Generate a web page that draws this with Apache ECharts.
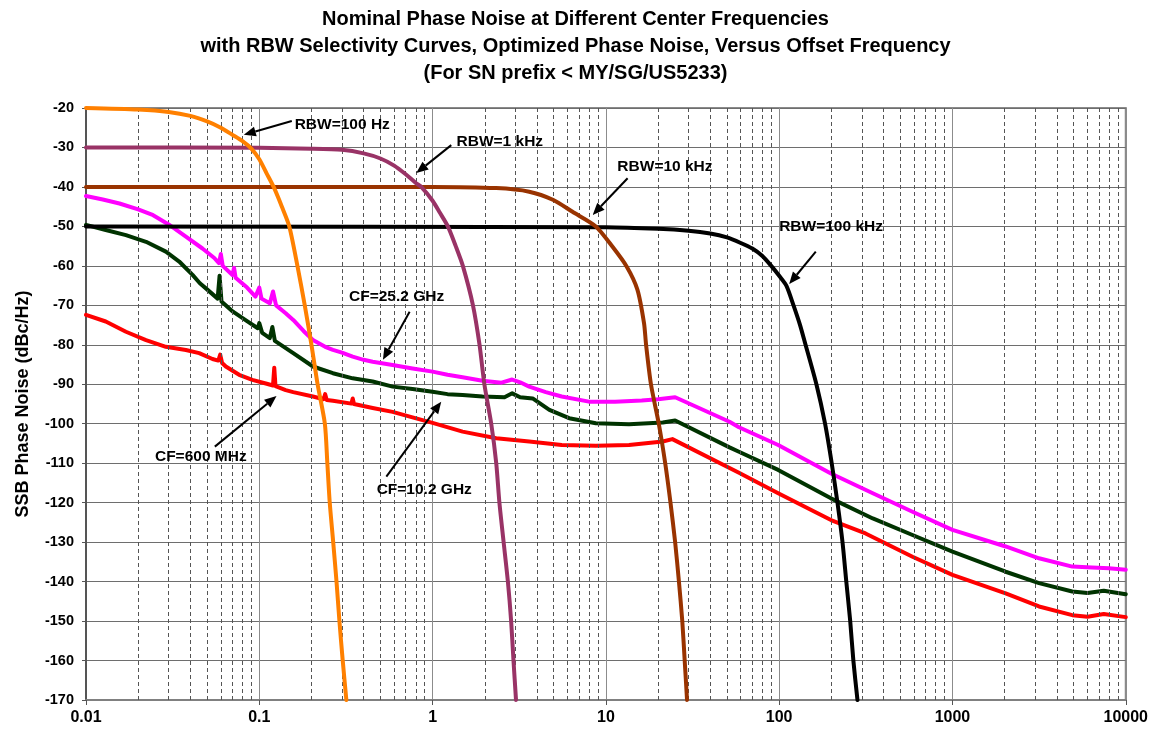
<!DOCTYPE html>
<html><head><meta charset="utf-8">
<script src="https://cdn.jsdelivr.net/npm/echarts@6/dist/echarts.min.js"></script>
<style>html,body{margin:0;padding:0;background:#fff}#c{width:1151px;height:732px}</style>
</head><body><div id="c"></div>
<script>
// ---------- text ----------
const titleLines = [
  'Nominal Phase Noise at Different Center Frequencies',
  'with RBW Selectivity Curves, Optimized Phase Noise, Versus Offset Frequency',
  '(For SN prefix < MY/SG/US5233)'
];
const yAxisName = 'SSB Phase Noise (dBc/Hz)';
const xTickLabels = ['0.01', '0.1', '1', '10', '100', '1000', '10000'];
const yTickLabels = ['-170','-160','-150','-140','-130','-120','-110','-100','-90','-80','-70','-60','-50','-40','-30','-20'];
const minorMultipliers = [2, 3, 4, 5, 6, 7, 8, 9];

// ---------- RBW selectivity curves (offset kHz, dB) ----------
const rbw100HzFreq  = [0.01, 0.02, 0.03, 0.04, 0.05, 0.06, 0.07, 0.08, 0.09, 0.1, 0.11, 0.121, 0.135, 0.149, 0.166, 0.183, 0.2, 0.217, 0.239, 0.247, 0.255, 0.267, 0.279, 0.29, 0.303, 0.318];
const rbw100HzLevel = [-20, -20.4, -21, -22, -23.4, -25, -26.8, -28.4, -30.3, -33, -36.5, -40, -45, -50, -60, -70, -80, -90, -100, -110, -120, -130, -140, -150, -160, -170];

const rbw1kHzFreq  = [0.01, 0.1, 0.2, 0.3, 0.4, 0.5, 0.6, 0.7, 0.8, 0.86, 1.0, 1.1, 1.225, 1.36, 1.495, 1.71, 1.866, 1.99, 2.18, 2.33, 2.43, 2.57, 2.72, 2.84, 2.93, 3.03];
const rbw1kHzLevel = [-30, -30.1, -30.3, -30.6, -31.5, -32.8, -34.6, -36.8, -39, -40, -43.5, -46.5, -50, -55, -60, -70, -80, -90, -100, -110, -120, -130, -140, -150, -160, -170];

const rbw10kHzFreq  = [0.01, 1, 2.33, 3.61, 4.98, 6.42, 8.75, 10.9, 13.2, 15.2, 16.6, 17.06, 18.2, 20.2, 22.0, 23.6, 25.1, 26.4, 27.6, 28.5, 29.4];
const rbw10kHzLevel = [-40, -40, -40.3, -41.2, -43.3, -46.3, -50, -55.1, -60.2, -66, -74.5, -80, -90, -100, -110, -120, -130, -140, -150, -160, -170];

const rbw100kHzFreq  = [0.01, 10, 20, 30, 40, 50, 60, 70, 80, 90, 100, 110, 121, 132, 142, 164, 184, 201, 217, 232, 244, 257, 268, 283];
const rbw100kHzLevel = [-50, -50.2, -50.6, -51.1, -51.8, -52.8, -54.2, -55.6, -57.5, -60, -62.5, -65, -70, -75, -80, -90, -100, -110, -120, -130, -140, -150, -160, -170];

// ---------- phase noise (offset kHz, dBc/Hz) ----------
const cf25GFreq  = [0.01, 0.0125, 0.0156, 0.02, 0.024, 0.03, 0.0377, 0.047, 0.055, 0.0585, 0.06, 0.0615, 0.07, 0.0715, 0.073, 0.085, 0.095, 0.1, 0.103, 0.115, 0.12, 0.125, 0.142, 0.157, 0.18, 0.204, 0.24, 0.266, 0.3, 0.346, 0.4, 0.451, 0.5, 0.588, 0.766, 1.0, 1.22, 1.49, 1.94, 2.5, 2.88, 3.2, 3.61, 4.5, 5.56, 7.98, 11.3, 16.1, 20, 25.1, 51.7, 58.6, 98.7, 199, 347, 588, 1000, 2028, 3159, 4914, 6393, 8000, 10000];
const cf25GNoise = [-42.3, -43.2, -44.2, -45.7, -47, -49.5, -52.6, -55.6, -58, -59.3, -57, -60, -62.3, -60.5, -63, -65.5, -67.8, -65.5, -68.3, -69.5, -66.5, -70, -72, -73.7, -76.5, -78.8, -80.5, -81.3, -82, -83, -83.8, -84.3, -84.6, -85.1, -86, -86.8, -87.6, -88.2, -89.1, -89.6, -88.8, -89.5, -90.6, -92, -93.1, -94.4, -94.4, -94.1, -93.8, -93.3, -99.5, -100.9, -105.4, -112.6, -117.6, -122.3, -126.9, -131.1, -134.1, -136.2, -136.4, -136.6, -137];

const cf10GFreq  = [0.01, 0.013, 0.017, 0.0222, 0.0289, 0.0345, 0.0412, 0.0454, 0.0492, 0.0575, 0.059, 0.0605, 0.0705, 0.085, 0.098, 0.1, 0.104, 0.115, 0.119, 0.123, 0.157, 0.204, 0.266, 0.346, 0.451, 0.588, 0.766, 0.999, 1.22, 1.49, 1.94, 2.6, 2.88, 3.2, 3.78, 4.72, 6.14, 8.75, 13.6, 21.3, 25.1, 51.7, 58.6, 98.7, 199, 347, 588, 1000, 2028, 3159, 4914, 6017, 7468, 10000];
const cf10GNoise = [-49.6, -50.9, -52.2, -53.9, -56.4, -58.9, -62.3, -64.4, -65.7, -68.3, -62.5, -69, -71.6, -74, -75.8, -74.5, -77, -78.3, -75.5, -79, -82.1, -85.5, -87.2, -88.5, -89.3, -90.6, -91.2, -91.9, -92.5, -92.7, -93.1, -93.3, -92.3, -93.3, -93.6, -96.5, -98.6, -99.9, -100.1, -99.7, -99.2, -106, -107.1, -111.7, -118.9, -124, -128.2, -132.4, -137.5, -140.4, -142.5, -142.9, -142.3, -143.2];

const cf600MFreq  = [0.01, 0.013, 0.017, 0.0222, 0.0289, 0.0377, 0.045, 0.0537, 0.058, 0.0595, 0.061, 0.0641, 0.0765, 0.0912, 0.109, 0.12, 0.122, 0.124, 0.142, 0.157, 0.204, 0.235, 0.24, 0.245, 0.266, 0.34, 0.346, 0.352, 0.451, 0.588, 0.766, 1.0, 1.49, 2.33, 3.61, 5.56, 8.75, 13.6, 21.3, 24.2, 58.6, 98.7, 199, 315, 588, 1000, 2028, 3159, 4914, 6017, 7468, 10000];
const cf600MNoise = [-72.4, -74.1, -76.7, -78.8, -80.5, -81.3, -82.1, -83.6, -84, -82.5, -84.6, -85.5, -87.6, -88.9, -89.8, -90.3, -85.8, -90.5, -91.5, -92, -93.1, -93.8, -92.5, -94, -94.2, -94.9, -93.6, -95, -96, -97, -98.4, -99.8, -102, -103.7, -104.5, -105.4, -105.6, -105.4, -104.5, -103.9, -112.4, -117.6, -124.4, -127.8, -133.7, -138.3, -143, -146.3, -148.5, -148.9, -148.2, -149];

// ---------- annotations (data coordinates) ----------
const annotations = [
  { text: 'RBW=100 Hz',  at: [0.16, -24.3],   from: [0.154, -23.3], to: [0.0814, -26.8] },
  { text: 'RBW=1 kHz',   at: [1.375, -28.5],  from: [1.282, -29.4], to: [0.805, -36.5] },
  { text: 'RBW=10 kHz',  at: [11.65, -35.0],  from: [13.35, -37.8], to: [8.39, -47.1] },
  { text: 'RBW=100 kHz', at: [100, -50.1],    from: [162.7, -56.4], to: [114.2, -64.6] },
  { text: 'CF=25.2 GHz', at: [0.3293, -67.8], from: [0.737, -71.6], to: [0.517, -83.8] },
  { text: 'CF=600 MHz',  at: [0.025, -108.3], from: [0.0554, -105.8], to: [0.1257, -93.0] },
  { text: 'CF=10.2 GHz', at: [0.4756, -116.8], from: [0.541, -113.4], to: [1.122, -94.4] }
];

const zip = (xs, ys) => xs.map((x, i) => [x, ys[i]]);
const FONT = '"Liberation Sans", Arial, sans-serif';

const minorLines = [];
[0.01, 0.1, 1, 10, 100, 1000].forEach(d => minorMultipliers.forEach(m => minorLines.push({ xAxis: +(d * m).toPrecision(6) })));

function lineSeries(name, xs, ys, color, z, smooth) {
  return {
    name, type: 'line', data: zip(xs, ys), showSymbol: false, symbol: 'none',
    smooth: smooth ? 0.25 : false, z, silent: true, clip: true,
    lineStyle: { color, width: 4, join: 'round', cap: 'round' }
  };
}

const chart = echarts.init(document.getElementById('c'), null, { renderer: 'canvas' });
const option = {
  backgroundColor: '#ffffff',
  animation: false,
  title: {
    text: titleLines.join('\n'),
    left: 'center', top: 1,
    textStyle: { fontFamily: FONT, fontWeight: 'bold', fontSize: 20, lineHeight: 27, color: '#000' }
  },
  grid: { left: 86, right: 24, top: 108, bottom: 32, show: true, borderColor: '#8a8a8a', borderWidth: 2, containLabel: false },
  xAxis: {
    type: 'log', logBase: 10, min: 0.01, max: 10000,
    axisLine: { show: true, lineStyle: { color: '#808080', width: 2 } },
    axisTick: { show: true, length: 5, lineStyle: { color: '#555' } },
    axisLabel: {
      fontFamily: FONT, fontWeight: 'bold', fontSize: 16, color: '#000', margin: 10,
      formatter: v => xTickLabels[Math.round(Math.log10(v)) + 2]
    },
    splitLine: { show: true, lineStyle: { color: '#8c8c8c', width: 1 } }
  },
  yAxis: {
    type: 'value', min: -170, max: -20, interval: 10,
    name: yAxisName, nameLocation: 'middle', nameGap: 54, nameRotate: 90,
    nameTextStyle: { fontFamily: FONT, fontWeight: 'bold', fontSize: 18, color: '#000' },
    axisLine: { show: true, lineStyle: { color: '#555', width: 2 } },
    axisTick: { show: true, length: 4, lineStyle: { color: '#555' } },
    axisLabel: {
      fontFamily: FONT, fontWeight: 'bold', fontSize: 14.5, color: '#000', margin: 12,
      formatter: v => yTickLabels[Math.round((v + 170) / 10)]
    },
    splitLine: { show: true, lineStyle: { color: '#6e6e6e', width: 1 } }
  },
  series: [
    {
      name: 'minor-grid', type: 'line', data: [], z: 1, silent: true,
      markLine: {
        silent: true, symbol: ['none', 'none'], animation: false,
        label: { show: false },
        lineStyle: { color: '#555', type: [4, 3], width: 1 },
        emphasis: { disabled: true },
        data: minorLines
      }
    },
    lineSeries('CF=600 MHz', cf600MFreq, cf600MNoise, '#ff0000', 3, false),
    lineSeries('CF=10.2 GHz', cf10GFreq, cf10GNoise, '#003300', 4, false),
    lineSeries('CF=25.2 GHz', cf25GFreq, cf25GNoise, '#ff00ff', 5, false),
    lineSeries('RBW=100 kHz', rbw100kHzFreq, rbw100kHzLevel, '#000000', 6, true),
    lineSeries('RBW=10 kHz', rbw10kHzFreq, rbw10kHzLevel, '#993300', 7, true),
    lineSeries('RBW=1 kHz', rbw1kHzFreq, rbw1kHzLevel, '#993366', 8, true),
    lineSeries('RBW=100 Hz', rbw100HzFreq, rbw100HzLevel, '#ff8000', 9, true)
  ]
};
chart.setOption(option);

function arrowGraphics(p0, p1) {
  const dx = p1[0] - p0[0], dy = p1[1] - p0[1];
  const len = Math.hypot(dx, dy), ux = dx / len, uy = dy / len;
  const hl = 12, hw = 5;
  const bx = p1[0] - ux * hl, by = p1[1] - uy * hl;
  return [
    { type: 'line', z: 100, shape: { x1: p0[0], y1: p0[1], x2: bx, y2: by }, style: { stroke: '#000', lineWidth: 2 } },
    { type: 'polygon', z: 100, shape: { points: [[p1[0], p1[1]], [bx - uy * hw, by + ux * hw], [bx + uy * hw, by - ux * hw]] }, style: { fill: '#000' } }
  ];
}

const g = [];
annotations.forEach(a => {
  const t = chart.convertToPixel({ gridIndex: 0 }, a.at);
  const f = chart.convertToPixel({ gridIndex: 0 }, a.from);
  const to = chart.convertToPixel({ gridIndex: 0 }, a.to);
  g.push({ type: 'text', z: 100, x: t[0], y: t[1], style: { text: a.text, font: 'bold 15.5px ' + FONT, fill: '#000', verticalAlign: 'middle', align: 'left' } });
  arrowGraphics(f, to).forEach(e => g.push(e));
});
chart.setOption({ graphic: g });
</script>
</body></html>
